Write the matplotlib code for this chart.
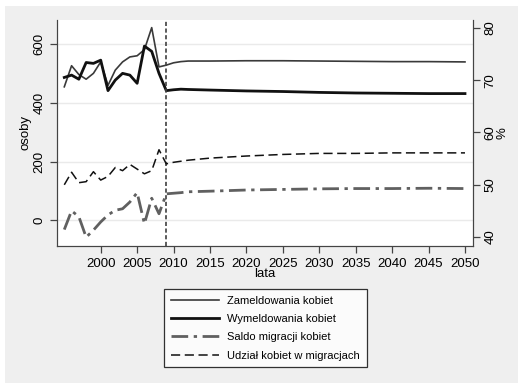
import matplotlib
matplotlib.use("Agg")
import matplotlib.pyplot as plt
from matplotlib.patches import Rectangle

plt.rcParams['font.family'] = ['Liberation Sans', 'DejaVu Sans']

# Data
years = list(range(1995, 2013)) + [2015, 2020, 2025, 2030, 2035, 2040, 2045, 2050]

zameldowania = [455, 527, 497, 481, 501, 540, 460, 512, 540, 557, 561, 582, 657, 523, 529,
                537, 541, 543, 543, 544, 544, 543, 542, 541, 541, 540]
wymeldowania = [487, 495, 481, 538, 535, 546, 442, 478, 501, 495, 467, 594, 576, 501, 442,
                445, 447, 446, 444, 441, 439, 436, 434, 433, 432, 432]
saldo = [-32, 32, 12, -58, -34, -6, 18, 34, 39, 62, 94, -12, 75, 22, 90,
         92, 94, 97, 99, 103, 105, 107, 108, 108, 109, 108]
udzial = [50.0, 52.4, 50.4, 50.6, 52.5, 50.9, 51.6, 53.3, 52.7, 53.9, 53.0, 52.1, 52.7, 56.7, 54.0,
          54.3, 54.5, 54.7, 55.1, 55.5, 55.8, 56.0, 56.0, 56.1, 56.1, 56.1]

labels = ["Zameldowania kobiet", "Wymeldowania kobiet",
          "Saldo migracji kobiet", "Udział kobiet w migracjach"]

fig = plt.figure(figsize=(5.18, 3.83), dpi=100, facecolor='white')
fig.patches.append(Rectangle((5 / 518, 0), 1, 1 - 6 / 383, transform=fig.transFigure,
                             facecolor='#efefef', edgecolor='none', zorder=-10))

ax = fig.add_axes([57 / 518, 1 - 246 / 383, 416 / 518, 226 / 383])
ax.set_facecolor('white')
ax2 = ax.twinx()

l1, = ax.plot(years, zameldowania, color='#3a3a3a', lw=1.2)
l2, = ax.plot(years, wymeldowania, color='#111111', lw=2.0)
l3, = ax.plot(years, saldo, color='#606060', lw=2.0, dashes=(6, 2, 1.2, 2))
l4, = ax2.plot(years, udzial, color='#111111', lw=1.1, dashes=(6, 3))
ax.axvline(2009, color='#404040', lw=1.2, dashes=(2.5, 1.5))

ax.set_xlim(1994, 2051.1)
ax.set_ylim(-88, 683)
ax2.set_ylim(38.3, 81.5)

ax.set_xticks(list(range(2000, 2051, 5)))
ax.set_yticks([0, 200, 400, 600])
ax2.set_yticks([40, 50, 60, 70, 80])
ax.grid(axis='y', color='#eaeaea', lw=1.0)
ax.set_axisbelow(True)

for a in (ax, ax2):
    a.spines['top'].set_visible(False)
    for s in ('left', 'right', 'bottom'):
        a.spines[s].set_color('#444444')
    a.tick_params(colors='#444444', labelcolor='black', length=5, width=0.9, labelsize=9.5)

for t in ax.get_yticklabels() + ax2.get_yticklabels():
    t.set_rotation(90)
    t.set_va('center')

ax.set_xlabel("lata", fontsize=9.5, labelpad=-1)
ax.set_ylabel("osoby", fontsize=9.5, labelpad=1)
ax2.set_ylabel("%", fontsize=9.5, labelpad=0)

leg = fig.legend([l1, l2, l3, l4], labels, loc='upper center',
                 bbox_to_anchor=(265.5 / 518, 1 - 289 / 383), ncol=1, fontsize=8,
                 frameon=True, fancybox=False, handlelength=4.3, labelspacing=0.75,
                 borderpad=0.6, handletextpad=0.8, borderaxespad=0)
leg.get_frame().set_edgecolor('black')
leg.get_frame().set_linewidth(0.9)

fig.savefig("out.png", dpi=100, facecolor=fig.get_facecolor())
